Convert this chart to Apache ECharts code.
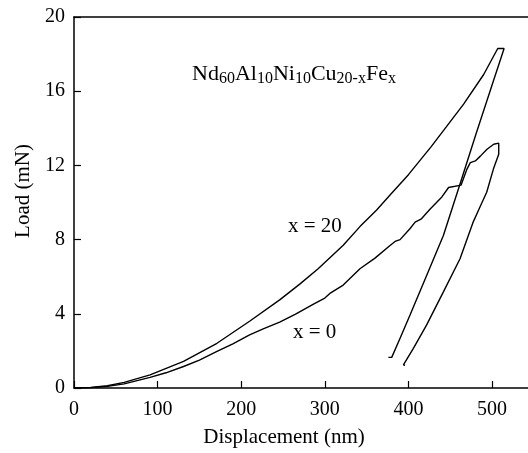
<!DOCTYPE html>
<html>
<head>
<meta charset="utf-8">
<script src="https://cdn.jsdelivr.net/npm/echarts@6/dist/echarts.min.js"></script>
<style>
html, body { margin: 0; padding: 0; background: #fff; }
#main { width: 528px; height: 453px; }
</style>
</head>
<body>
<div id="main"></div>
<script>
// tick values shown on the axes
var xTicks = [0, 100, 200, 300, 400, 500];
var yTicks = [0, 4, 8, 12, 16, 20];

// x = 20 : loading then unloading  [displacement nm, load mN]
var x20Load = [[0, 0], [20, 0.03], [40, 0.12], [60, 0.3], [91, 0.71], [131, 1.43], [171, 2.41],
    [210, 3.6], [246, 4.75], [270, 5.6], [292, 6.43], [322, 7.7], [342, 8.7], [362, 9.6], [378, 10.4],
    [400, 11.5], [427, 13.0], [466, 15.3], [490, 16.9], [506.8, 18.3]];
var x20Unload = [[514.4, 18.3], [509.6, 17.64], [501.6, 16.55], [481, 13.72], [461.7, 11.0],
    [441.8, 8.22], [421.9, 6.08], [401.9, 3.93], [390, 2.68], [380, 1.65], [376, 1.65]];

// x = 0 : loading (with pop-ins) then unloading
var x0Load = [[0, 0], [20, 0.02], [40, 0.09], [60, 0.22], [91, 0.57], [110, 0.82], [131, 1.16],
    [150, 1.5], [171, 1.97], [190, 2.38], [210, 2.86], [227, 3.2], [246, 3.55], [265, 3.98],
    [287, 4.54], [300, 4.85], [307, 5.13], [322, 5.55], [342, 6.43], [360, 7.0], [378, 7.68],
    [384, 7.9], [390, 8.0], [402, 8.6], [408, 8.94], [415, 9.1], [426, 9.65], [440, 10.3],
    [448, 10.81], [463, 10.94], [470, 11.8], [474, 12.15], [480, 12.24], [486, 12.5],
    [494, 12.87], [502, 13.14], [508, 13.2]];
var x0Unload = [[510, 13.15], [508, 12.6], [501.6, 11.8], [493.6, 10.55], [485, 9.7], [477, 8.9],
    [461.7, 6.97], [441.8, 5.18], [421.8, 3.4], [405.9, 2.14], [394, 1.25], [396, 1.22]];

var font = 'Liberation Serif';
var black = '#000';

var myChart = echarts.init(document.getElementById('main'));

var option = {
    animation: false,
    backgroundColor: '#fff',
    grid: { left: 74, right: 0, top: 17, bottom: 63 },
    xAxis: [{
        type: 'value', position: 'bottom', min: 0, max: 543, interval: 100,
        name: 'Displacement (nm)', nameLocation: 'middle', nameGap: 39,
        nameTextStyle: { color: black, fontFamily: font, fontSize: 21, padding: [0, 34, 0, 0] },
        axisLine: { show: true, onZero: false, lineStyle: { color: black, width: 1.5 } },
        axisTick: { show: true, inside: true, length: 7, lineStyle: { color: black, width: 1.2 } },
        axisLabel: {
            color: black, fontFamily: font, fontSize: 20, margin: 12, showMaxLabel: false,
            formatter: function (v) { return xTicks.indexOf(v) >= 0 ? String(v) : ''; }
        },
        splitLine: { show: false }
    }, {
        // top frame line only
        type: 'value', position: 'top', min: 0, max: 543,
        axisLine: { show: true, onZero: false, lineStyle: { color: black, width: 1.5 } },
        axisTick: { show: false }, axisLabel: { show: false }, splitLine: { show: false }
    }],
    yAxis: {
        type: 'value', min: 0, max: 20, interval: 4,
        name: 'Load (mN)', nameLocation: 'middle', nameGap: 35, nameRotate: 90,
        nameTextStyle: { color: black, fontFamily: font, fontSize: 21, padding: [0, 0, 0, 23] },
        axisLine: { show: true, onZero: false, lineStyle: { color: black, width: 1.5 } },
        axisTick: { show: true, inside: true, length: 7, lineStyle: { color: black, width: 1.2 } },
        axisLabel: {
            color: black, fontFamily: font, fontSize: 20, margin: 9,
            formatter: function (v) { return yTicks.indexOf(v) >= 0 ? String(v) : ''; }
        },
        splitLine: { show: false }
    },
    graphic: [{
        type: 'text', left: 192, top: 63,
        style: {
            text: '{m|Nd}{s|60}{m|Al}{s|10}{m|Ni}{s|10}{m|Cu}{s|20-x}{m|Fe}{s|x}',
            fill: black,
            rich: {
                m: { fontFamily: font, fontSize: 22, lineHeight: 22, fill: black },
                // subscripts pushed down with top padding
                s: { fontFamily: font, fontSize: 16, lineHeight: 10, verticalAlign: 'top', padding: [8, 0, 0, 0], fill: black }
            }
        }
    }, {
        type: 'text', left: 288, top: 216,
        style: { text: 'x = 20', fontFamily: font, fontSize: 21, fill: black }
    }, {
        type: 'text', left: 293, top: 322,
        style: { text: 'x = 0', fontFamily: font, fontSize: 21, fill: black }
    }],
    series: [{
        name: 'x = 20', type: 'line', showSymbol: false, smooth: false,
        data: x20Load.concat(x20Unload),
        lineStyle: { color: black, width: 1.4 }
    }, {
        name: 'x = 0', type: 'line', showSymbol: false, smooth: false,
        data: x0Load.concat(x0Unload),
        lineStyle: { color: black, width: 1.4 }
    }]
};
myChart.setOption(option);
</script>
</body>
</html>
